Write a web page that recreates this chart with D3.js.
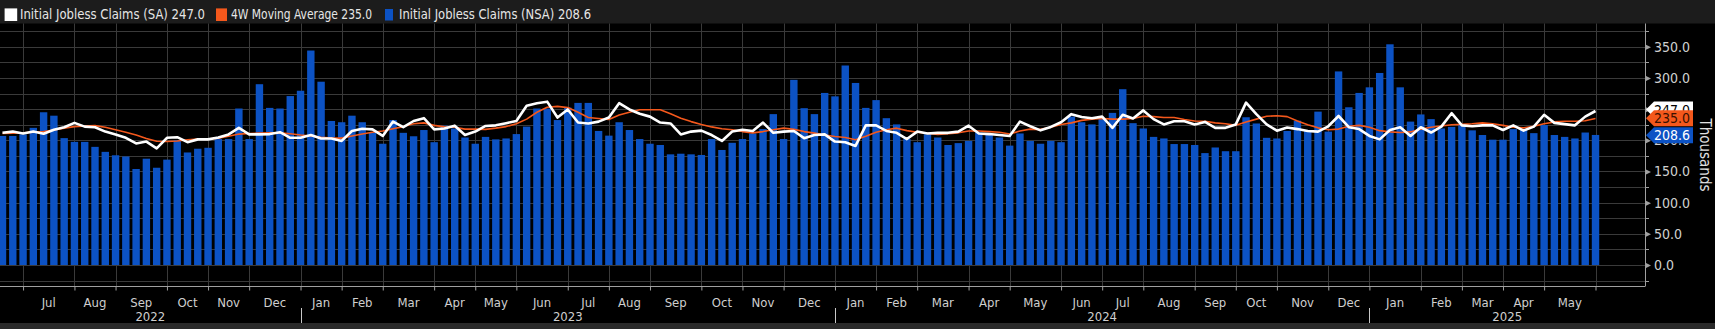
<!DOCTYPE html>
<html><head><meta charset="utf-8">
<script src="https://cdn.jsdelivr.net/npm/d3@7"></script>
<style>
html,body{margin:0;padding:0;background:#000;overflow:hidden}
svg{display:block}
text{font-family:'Liberation Sans Narrow','Arial Narrow','DejaVu Sans Condensed','Liberation Sans',sans-serif}
</style></head><body>
<svg id="c" width="1715" height="329"></svg>
<script>
// ---------- data ----------
const firstWeek = new Date(2022, 5, 17);   // first weekly observation (Friday)
const lastWeek  = new Date(2025, 5, 6);    // last weekly observation (Friday)

const seriesNames = ["Initial Jobless Claims (SA)", "4W Moving Average", "Initial Jobless Claims (NSA)"];
const lastValues  = [247.0, 235.0, 208.6];

// Initial Jobless Claims, not seasonally adjusted (bars), thousands
const nsa = [
207,207,209.5,220,245,239.5,203.5,197.5,197.5,189.5,
181.5,176,174,154,170.5,156,169,200.5,180.5,186.5,
188,202,202,251,202,290,252,251,271,279.5,
344,294,231,229,239.5,229,212.5,194.5,232.5,212,
206.5,216.5,197,223.5,219,204.5,194.5,205.5,201.5,203,
210,222,251,251,232.5,252.5,260,260,215,207.5,
229,216.5,202,194.5,192.5,177.5,178.5,177.5,176.5,202,
184.5,196,202,211,218,242,202,297,251.5,242,
276,270.5,320,292,252,264.5,235.5,225.5,202,197,
209.5,204.5,192.5,195.5,199,212.5,209.5,204.5,191.5,211,
199,194.5,199,197,238,229,225.5,234,244,282,
227.5,219,205.5,203,194,194,192.5,179.5,188.5,182.5,
182.5,237,227,204,203,215,231.5,216.5,246,214,
310.5,253,276,285,308,354,285,230,241.5,234,
219,221.5,224.5,216,208.5,201,201,218,216.5,211.5,
224.5,208.5,205.5,203,212.5,208.6
];

// Initial Jobless Claims, seasonally adjusted (white line)
const sa = [
212,214,211,214,210.5,217,221,228,222,221,
214,209.5,204,195,198,187,204,205,197,201.5,
201.5,204.5,209.5,220,209.5,209.5,210,213,204,204,
208.5,203,203,199,215,218.5,217.5,207,230,221,
231,235.5,217.5,219,223.5,208.5,214,223,224,227.5,
231,255.5,259.5,262,236.5,249.5,228.5,227,230,236.5,
259.5,249.5,242.5,238,228.5,227,209.5,214,215.5,208.5,
199,214,217,215,228.5,212,214,215,203.5,208.5,
209.5,198,197,191,224,224,215,212,202,214,
211,212,212,214,223.5,211,210,208.5,207,230,
222.5,216,221.5,229,242,237.5,235.5,238,220,241,
235,248,234,225.5,230.5,230.5,225.5,229.5,220,220,
225.5,260.5,242,225.5,215.5,220.5,218,215,214,222.5,
239,221,218,207,201.5,216.5,221,207,221,212.5,
222,243.5,224,222.5,224,224,216.5,224,215.5,222,
241,228,226,224,238,247.0
];

// 4-week moving average (orange line)
const ma4 = [
211,211.5,212,213,214,216.5,219.5,222,223,223.5,
221,217,213,208.5,203,198.5,198,199,201,202,
202,203.5,206.5,210,211,211.5,212,212,210.5,208.5,
207,205,203.5,203.5,207,210,213,215,218.5,222,
226.5,228,224,221.5,221,218,218,217.5,219.5,222,
226.5,234,245,253,254.5,252.5,245,236.5,235,233.5,
240.5,245,249,249,249,242.5,235.5,230,225.5,221.5,
218.5,217,214,212,214,217,219.5,217.5,214,211.5,
208.5,206,204.5,201,206.5,213,217,219.5,215.5,213,
211.5,209.5,210.5,212,215,215,214,213,210,215,
218,217.5,221,225.5,228,232,234,235,234,234,
235,238.5,238,236.5,236.5,233.5,231,230.5,228,226.5,
224,229.5,234,238.5,239.5,238,231,225,220,217,
218,222.5,224,221,215.5,213.5,212.5,213.5,218,221,
223,225,225.5,226.5,228,226.5,224,221,220,222.5,
226.5,229.5,230.5,230.5,231.5,235.0
];

const yTicks = [0, 50, 100, 150, 200, 250, 300, 350];
const yGrid  = [-25, 0, 25, 50, 75, 100, 125, 150, 175, 200, 225, 250, 275, 300, 325, 350, 375];
const monthNames = ["Jan","Feb","Mar","Apr","May","Jun","Jul","Aug","Sep","Oct","Nov","Dec"];
const unitLabel = "Thousands";

// ---------- layout ----------
const W = 1715, H = 329;
const plotLeft = 0, plotRight = 1645, plotTop = 23.5, plotBottom = 286.5;
const colors = {sa: "#ffffff", ma: "#f4581c", nsa: "#0c52c4", grid: "#3a3a3a", axis: "#a0a0a0", text: "#cfcfcf"};

const dates = d3.timeFriday.range(firstWeek, d3.timeDay.offset(lastWeek, 1));
const idx = d3.range(dates.length);

const svg = d3.select("#c");

const x = d3.scalePoint().domain(idx).range([2.5, 1595.5]);
const step = x.step();
const barW = step * 0.72;
const y = d3.scaleLinear().domain([0, 350]).range([265, 46.8]);

// backgrounds
svg.append("rect").attr("x",0).attr("y",0).attr("width",W).attr("height",H).attr("fill","#000");
svg.append("rect").attr("x",0).attr("y",0).attr("width",W).attr("height",plotTop).attr("fill","#1c1c1c");
svg.append("rect").attr("x",0).attr("y",323).attr("width",W).attr("height",H-323).attr("fill","#2a2a2a");

// month ticks: first observation of every month
const monthTickIdx = idx.filter(i => i > 0 && dates[i].getMonth() !== dates[i-1].getMonth());

// grid
const grid = svg.append("g");
grid.selectAll("line.h").data(yGrid).join("line")
  .attr("x1", plotLeft).attr("x2", plotRight)
  .attr("y1", d => Math.round(y(d)) + 0.5).attr("y2", d => Math.round(y(d)) + 0.5)
  .attr("stroke", colors.grid).attr("stroke-width", 1);
grid.selectAll("line.v").data(monthTickIdx).join("line")
  .attr("x1", d => Math.round(x(d)) + 0.5).attr("x2", d => Math.round(x(d)) + 0.5)
  .attr("y1", plotTop).attr("y2", plotBottom)
  .attr("stroke", colors.grid).attr("stroke-width", 1);

// bars
svg.append("g").selectAll("rect").data(nsa).join("rect")
  .attr("x", (d,i) => x(i) - barW/2)
  .attr("width", barW)
  .attr("y", d => y(d))
  .attr("height", d => y(0) - y(d))
  .attr("fill", colors.nsa);

// lines
const line = d3.line().x((d,i) => x(i)).y(d => y(d));
svg.append("path").datum(ma4).attr("d", line).attr("fill","none")
  .attr("stroke", colors.ma).attr("stroke-width", 1.6).attr("stroke-linejoin","round");
svg.append("path").datum(sa).attr("d", line).attr("fill","none")
  .attr("stroke", colors.sa).attr("stroke-width", 2.6).attr("stroke-linejoin","round");

// x axis
const xAxis = d3.axisBottom(x).tickValues(monthTickIdx).tickFormat("").tickSize(4).tickSizeOuter(0);
const gx = svg.append("g").attr("transform", `translate(0,${plotBottom})`).call(xAxis);
gx.select(".domain").remove();
gx.selectAll(".tick line").attr("stroke", colors.axis);
svg.append("line").attr("x1", 0).attr("x2", plotRight).attr("y1", plotBottom).attr("y2", plotBottom)
  .attr("stroke", colors.axis);

// month labels centred between consecutive month ticks
const monthSpans = [];
for (let k = 0; k < monthTickIdx.length - 1; k++) {
  const a = monthTickIdx[k], b = monthTickIdx[k+1];
  monthSpans.push({label: monthNames[dates[a].getMonth()], cx: (x(a) + x(b)) / 2});
}
svg.append("g").selectAll("text").data(monthSpans).join("text")
  .attr("x", d => d.cx).attr("y", 306.5)
  .attr("text-anchor", "middle").attr("font-size", 13).attr("fill", colors.text)
  .text(d => d.label);

// year labels & separators
const janIdx = monthTickIdx.filter(i => dates[i].getMonth() === 0);
const yearBounds = [plotLeft, ...janIdx.map(i => x(i)), plotRight];
const years = [dates[0].getFullYear(), ...janIdx.map(i => dates[i].getFullYear())];
svg.append("g").selectAll("text").data(years).join("text")
  .attr("x", (d,k) => (yearBounds[k] + yearBounds[k+1]) / 2).attr("y", 321)
  .attr("text-anchor", "middle").attr("font-size", 13).attr("fill", colors.text)
  .text(d => d);
svg.append("g").selectAll("line").data(janIdx).join("line")
  .attr("x1", d => Math.round(x(d)) + 0.5).attr("x2", d => Math.round(x(d)) + 0.5)
  .attr("y1", 308).attr("y2", 323).attr("stroke", "#c8c8c8");

// y axis
const yAxis = d3.axisRight(y).tickValues(yTicks).tickFormat(d3.format(".1f")).tickSize(0).tickPadding(9);
const gy = svg.append("g").attr("transform", `translate(${plotRight},0)`).call(yAxis);
gy.select(".domain").remove();
gy.selectAll(".tick text").attr("fill", colors.text).attr("font-size", 14)
  .attr("font-family", "'Liberation Sans Narrow','Arial Narrow','DejaVu Sans Condensed',sans-serif");
gy.selectAll(".tick").append("path").attr("d", "M0,-3L6,0L0,3Z").attr("fill", colors.axis);
svg.append("g").selectAll("line").data(yGrid.filter(v => yTicks.indexOf(v) < 0)).join("line")
  .attr("x1", plotRight).attr("x2", plotRight + 4)
  .attr("y1", d => Math.round(y(d)) + 0.5).attr("y2", d => Math.round(y(d)) + 0.5)
  .attr("stroke", colors.axis);
svg.append("line").attr("x1", plotRight + 0.5).attr("x2", plotRight + 0.5)
  .attr("y1", plotTop).attr("y2", plotBottom).attr("stroke", colors.axis);

// last value tags
const tags = [
  {v: lastValues[0], fill: colors.sa, txt: "#000"},
  {v: lastValues[1], fill: colors.ma, txt: "#3a1000"},
  {v: lastValues[2], fill: colors.nsa, txt: "#fff"}
];
const tagCy = [109.5, 118.3, 135.3];
const tg = svg.append("g");
tags.forEach((t, k) => {
  const cy = tagCy[k], h = 16, x0 = plotRight + 1, x1 = 1693;
  tg.append("path")
    .attr("d", `M${x0},${cy}L${x0+8},${cy-h/2}L${x1},${cy-h/2}L${x1},${cy+h/2}L${x0+8},${cy+h/2}Z`)
    .attr("fill", t.fill);
  tg.append("text").attr("x", x0 + 8).attr("y", cy + 5).attr("font-size", 14)
    .attr("fill", t.txt).text(d3.format(".1f")(t.v));
});

// unit label
svg.append("text").attr("transform", "translate(1700,155) rotate(90)")
  .attr("text-anchor", "middle").attr("font-size", 15).attr("fill", "#e0e0e0")
  .text(unitLabel);

// legend: one text per item (name + last value)
const legend = [
  {sw: [4.6, 8.4, 12.6, 12.6], c: colors.sa, lx: 20, lw: 185},
  {sw: [216, 8.4, 11, 12.6], c: colors.ma, lx: 231, lw: 141},
  {sw: [385, 9, 8, 11.5], c: colors.nsa, lx: 399, lw: 192}
];
const lg = svg.append("g");
legend.forEach((l, k) => {
  lg.append("rect").attr("x", l.sw[0]).attr("y", l.sw[1]).attr("width", l.sw[2]).attr("height", l.sw[3]).attr("fill", l.c);
  lg.append("text").attr("x", l.lx).attr("y", 18.5).attr("font-size", 14).attr("fill", "#e6e6e6")
    .attr("textLength", l.lw).attr("lengthAdjust", "spacingAndGlyphs")
    .text(seriesNames[k] + "  " + d3.format(".1f")(lastValues[k]));
});
</script>
</body></html>
